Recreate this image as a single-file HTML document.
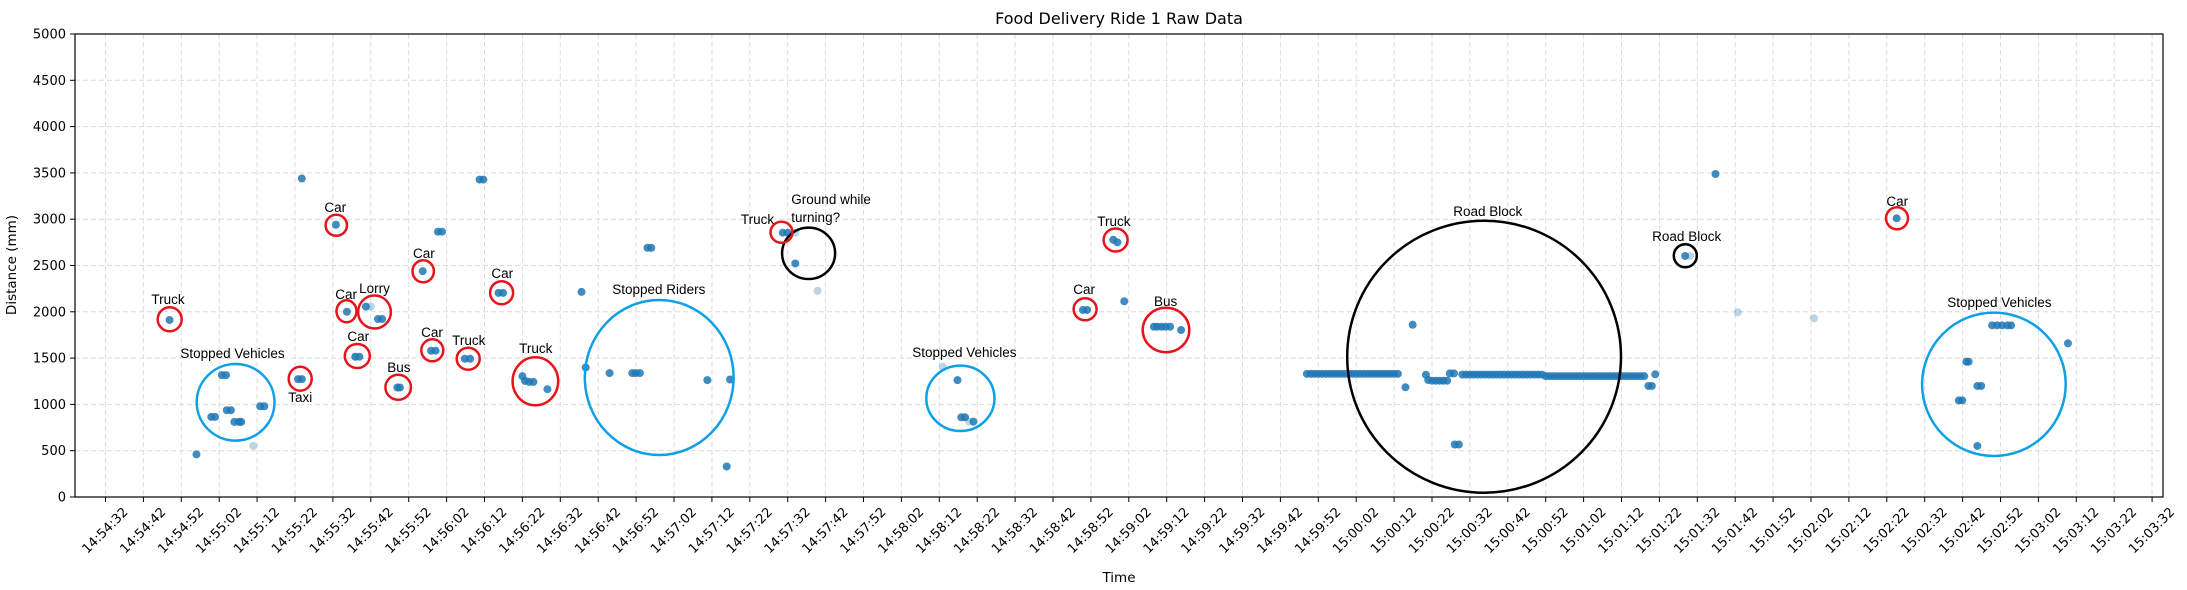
<!DOCTYPE html>
<html><head><meta charset="utf-8"><style>
html,body{margin:0;padding:0;background:#fff;}
svg{display:block;font-family:"DejaVu Sans","Liberation Sans",sans-serif;}
.ann{font-family:"Liberation Sans",sans-serif;font-size:13.5px;fill:#000;}
</style></head><body>
<svg id="chart" width="2187" height="590" viewBox="0 0 2187 590">
<rect x="0" y="0" width="2187" height="590" fill="#fff"/>
<g id="grid"></g>
<g id="marks"></g>
<g id="annots"></g>
<rect x="75" y="34" width="2088" height="463" fill="none" stroke="#000" stroke-width="1.2"/>
<g id="axes"></g>
<text x="1119" y="24" text-anchor="middle" font-size="16">Food Delivery Ride 1 Raw Data</text>
<text x="1119" y="582" text-anchor="middle" font-size="13.5">Time</text>
<text transform="translate(16,265) rotate(-90)" text-anchor="middle" font-size="13.5">Distance (mm)</text>
</svg>
<script>
// seconds after 14:54:32
const pointTimes = [51.8,60.8,87.7,88.8,83.7,98.7,99.7,103.7,104.9,125.6,16.9,63.7,68.7,71.9,73,65.9,67,85.9,87.1,94.8,96.2,77,77.7,50.8,51.8,110,110.7,111.8,112.9,116.6,126.7,30.7,31.8,32,33.1,27.9,28.9,34,35.2,35.8,40.8,41.9,24,
143,144,178.7,180,182,133,139,139.9,141,158.8,164.8,163.9,224.8,225.8,226.8,229,257.9,259,265.9,267,268.8,
276.6,277.5,278.6,279.7,280.9,283.8,344.9,343,356,357.1,348.4,349,350,351,352,353,354,354.7,355.8,407.1,408,408.9,416.8,424.8,472.6,497.8,499.1,500.4,501.8,502.8,491,491.6,493.9,494.9,489,489.9,493.9,517.8];
const pointDists = [3439,2940,2865,2865,2439,3428,3428,2204,2204,2215,1912,2000,2056,1922,1922,1515,1515,1580,1580,1493,1493,1182,1182,1273,1273,1305,1254,1243,1243,1164,1399,1316,1316,937,937,865,865,811,811,811,980,980,460,
2691,2691,2854,2854,2522,1338,1338,1338,1338,1262,1269,330,1262,861,861,814,2020,2020,2778,2750,2114,
1839,1839,1839,1839,1839,1803,1860,1185,567,567,1320,1263,1256,1256,1256,1256,1256,1335,1335,1199,1199,1325,2603,3488,3010,1854,1854,1854,1854,1854,1461,1461,1199,1199,1044,1044,551,1660];
const faintTimes = [70,39,182,187.9,220.9,227.9,418.1,430.7,450.8,65.9];
const faintDists = [2056,551,2854,2226,1406,814,2603,1994,1930,1515];
const blockATimes = [317,318,319,320,321,322,323,324,325,326,327,328,329,330,331,332,333,334,335,336,337,338,339,340,341];
const blockADists = [1330,1330,1330,1330,1330,1330,1330,1330,1330,1330,1330,1330,1330,1330,1330,1330,1330,1330,1330,1330,1330,1330,1330,1330,1330];
const blockBTimes = [358,359,360,361,362,363,364,365,366,367,368,369,370,371,372,373,374,375,376,377,378,379,380,381,382,383,384,385,386,387,388,389,390,391,392,393,394,395,396,397,398,399,400,401,402,403,404,405,406];
const blockBDists = [1322,1322,1322,1322,1322,1322,1322,1322,1322,1322,1322,1322,1322,1322,1322,1322,1322,1322,1322,1322,1322,1322,1305,1305,1305,1305,1305,1305,1305,1305,1305,1305,1305,1305,1305,1305,1305,1305,1305,1305,1305,1305,1305,1305,1305,1305,1305,1305,1305];
const yTicks = [0,500,1000,1500,2000,2500,3000,3500,4000,4500,5000];
const xTickSeconds = [0,10,20,30,40,50,60,70,80,90,100,110,120,130,140,150,160,170,180,190,200,210,220,230,240,250,260,270,280,290,300,310,320,330,340,350,360,370,380,390,400,410,420,430,440,450,460,470,480,490,500,510,520,530,540];

const NS = "http://www.w3.org/2000/svg";
function xAt(t){ return 105.5 + t*3.79; }
function yAt(v){ return 497 - v*0.0926; }
function mk(tag, attrs, parent){ const e=document.createElementNS(NS,tag); for(const k in attrs) e.setAttribute(k,attrs[k]); parent.appendChild(e); return e; }
function fmt(s){ let tot=14*3600+54*60+32+s; const h=Math.floor(tot/3600), m=Math.floor(tot%3600/60), ss=tot%60; const p=n=>String(n).padStart(2,'0'); return p(h)+':'+p(m)+':'+p(ss); }

const grid=document.getElementById('grid'), axes=document.getElementById('axes'), marks=document.getElementById('marks'), annots=document.getElementById('annots');
yTicks.forEach(v=>{
  const y=yAt(v);
  const g=mk('line',{x1:75,x2:2163,y1:y,y2:y,stroke:'#dcdcdc','stroke-dasharray':'5,3','stroke-width':1},grid);
  
  
  const t=mk('line',{x1:70,x2:75,y1:y,y2:y,stroke:'#000'},axes);
  
  
  const l=mk('text',{x:66,y:y+4.5,'text-anchor':'end','font-size':13},axes);
  l.textContent=v;
  
  
});
xTickSeconds.forEach(s=>{
  const x=xAt(s);
  const g=mk('line',{x1:x,x2:x,y1:34,y2:497,stroke:'#dcdcdc','stroke-dasharray':'5,3','stroke-width':1},grid);
  
  
  const t=mk('line',{x1:x,x2:x,y1:497,y2:502,stroke:'#000'},axes);
  
  
  const l=mk('text',{x:0,y:0,'text-anchor':'middle','dominant-baseline':'central','font-size':13,transform:'translate('+x+',531) rotate(-45)'},axes);
  l.textContent=fmt(s);
  
  
});
function plot(ts,vs,op,name){
  ts.forEach((t,i)=>{
    const c=mk('circle',{cx:xAt(t),cy:yAt(vs[i]),r:4,fill:'#1f77b4','fill-opacity':op},marks);
    
    
  });
}
plot(faintTimes,faintDists,0.3,'faint-point');
plot(pointTimes,pointDists,0.85,'data-point');
plot(blockATimes,blockADists,0.85,'road-block-point');
plot(blockBTimes,blockBDists,0.85,'road-block-point');

// annotations: [cx, cy, rx, ry, color]
const ellipses=[
 [169.7,319.3,12,12,'#e8141c'],[336.3,225.3,10.7,10.5,'#e8141c'],[346.5,311.3,10,11,'#e8141c'],[374.5,312,16.4,16.5,'#e8141c'],
 [357.3,356,12.5,12,'#e8141c'],[300.2,378.7,11.5,12,'#e8141c'],[398.2,387.3,12.8,12.5,'#e8141c'],[423.2,271.3,10.7,11,'#e8141c'],
 [432.3,350.3,11,11,'#e8141c'],[468.2,358.7,11.5,11,'#e8141c'],[501.6,292.7,11.5,11.5,'#e8141c'],[535.4,381.3,22.8,24,'#e8141c'],
 [235.6,402.3,38.9,38.3,'#0ea0e6'],[659.2,377.5,74.4,77.5,'#0ea0e6'],[808.6,253.3,26.5,25.7,'#000'],[781.5,232.3,11,10.5,'#e8141c'],
 [960.4,398.3,34.1,32.7,'#0ea0e6'],[1085.1,309.3,11.5,11,'#e8141c'],[1115.6,240,12,11.5,'#e8141c'],[1166,330,23.3,22.2,'#e8141c'],
 [1484.1,356.7,136.9,136,'#000'],[1685.3,255.7,11.5,11.5,'#000'],[1993.9,384.3,71.8,71.7,'#0ea0e6'],[1897,218.3,11,11,'#e8141c']
];
ellipses.forEach(e=>{
  const el=mk('ellipse',{cx:e[0],cy:e[1],rx:e[2],ry:e[3],fill:'none',stroke:e[4],'stroke-width':2.5},annots);
  
  
});
const labels=[
 ['Truck',168,304],['Stopped Vehicles',232.5,358],['Car',335.3,212],['Car',346.1,299],['Lorry',374.5,293],['Car',358.3,341],
 ['Taxi',300.2,402],['Bus',398.9,372],['Car',423.9,258],['Car',432,337],['Truck',468.8,345],['Car',502.3,278],['Truck',535.8,353],
 ['Stopped Riders',658.8,294],['Truck',757.5,224],['Stopped Vehicles',964.4,357],['Car',1084.1,294],['Truck',1113.9,226],
 ['Bus',1165.6,306],['Road Block',1487.8,216],['Road Block',1686.7,241],['Stopped Vehicles',1999.4,307],['Car',1897.3,206]
];
labels.forEach(l=>{
  const t=mk('text',{x:l[1],y:l[2],'text-anchor':'middle',class:'ann'},annots);
  t.textContent=l[0];
  
  
});
const g1=mk('text',{x:791.3,y:204,class:'ann'},annots);
g1.textContent='Ground while';


const g2=mk('text',{x:791.3,y:222,class:'ann'},annots);
g2.textContent='turning?';


</script>
</body></html>
